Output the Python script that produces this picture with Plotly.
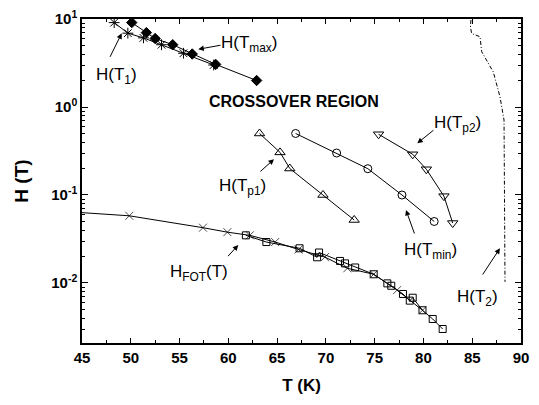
import plotly.graph_objects as go
import math

# ---- data ----
T_max = [50.1, 51.6, 52.5, 54.3, 56.3, 58.7, 62.9]
H_max = [9.1, 7.0, 6.0, 5.1, 4.0, 3.05, 2.0]

T_1 = [48.3, 49.7, 51.3, 53.15, 55.4, 58.5]
H_1 = [9.1, 6.9, 6.1, 5.1, 4.08, 3.0]

T_p1 = [63.2, 65.3, 66.3, 69.7, 72.9]
H_p1 = [0.50, 0.305, 0.20, 0.100, 0.052]

T_min = [66.9, 71.1, 74.3, 77.8, 81.1]
H_min = [0.50, 0.30, 0.199, 0.100, 0.050]

T_p2 = [75.4, 78.9, 80.3, 82.1, 83.0]
H_p2 = [0.49, 0.29, 0.196, 0.097, 0.048]

T_fot_x = [45.0, 49.85, 57.4, 59.9, 62.2, 64.8, 67.2, 69.9, 72.2, 74.9, 77.3, 79.9]
H_fot_x = [0.063, 0.058, 0.0425, 0.0378, 0.0348, 0.0292, 0.0240, 0.0197, 0.0147, 0.01256, 0.0083, 0.0049]

T_fot_sq = [61.8, 63.9, 67.3, 69.1, 69.3, 71.45, 71.96, 73.0, 74.9, 76.3, 76.7, 77.9, 78.6, 78.9, 79.9, 80.95, 81.97]
H_fot_sq = [0.0348, 0.0292, 0.0248, 0.0196, 0.0222, 0.0178, 0.0167, 0.0150, 0.01256, 0.0099, 0.0093, 0.0075, 0.0063, 0.0068, 0.0049, 0.0039, 0.0030]

T_2 = [84.87, 84.82, 84.94, 85.8, 85.97, 87.16, 87.85, 88.26, 88.31, 88.36]
H_2 = [9.75, 8.1, 6.84, 6.29, 4.25, 2.5, 1.3, 0.71, 0.088, 0.0103]

x_ticks = [45, 50, 55, 60, 65, 70, 75, 80, 85, 90]
y_tickvals = [0.01, 0.1, 1, 10]
y_ticktext = ["10<sup>-2</sup>", "10<sup>-1</sup>", "10<sup>0</sup>", "10<sup>1</sup>"]

FONT = "Liberation Sans, Arial, sans-serif"
LW = 1

fig = go.Figure()

def add(T, H, symbol, mode="lines+markers", size=7, dash=None, msizes=None):
    fig.add_trace(go.Scatter(
        x=T, y=H, mode=mode,
        line=dict(color="black", width=LW, dash=dash),
        marker=dict(symbol=symbol, size=msizes if msizes else size, color="black",
                    line=dict(color="black", width=1)),
        showlegend=False, hoverinfo="skip", cliponaxis=False))

add(T_2, H_2, None, mode="lines", dash="4px,2px,1px,2px")
add(T_fot_x, H_fot_x, "x-thin-open", msizes=[0] + [8] * (len(T_fot_x) - 1))
add(T_fot_sq, H_fot_sq, "square-open", size=7)
add(T_1, H_1, "asterisk-open", size=9)
add(T_max, H_max, "diamond", size=8)
add(T_p1, H_p1, "triangle-up-open", size=9)
add(T_min, H_min, "circle-open", size=8)
add(T_p2, H_p2, "triangle-down-open", size=9)

ann_font = dict(family=FONT, size=17, color="black")

def L(v):
    return math.log10(v)

def label(x, y, text, font=ann_font):
    fig.add_annotation(x=x, y=L(y), xref="x", yref="y", text=text, showarrow=False,
                       font=font, xanchor="center", yanchor="middle")

def arrow(x0, y0, x1, y1):
    fig.add_annotation(x=x1, y=L(y1), ax=x0, ay=L(y0),
                       xref="x", yref="y", axref="x", ayref="y", text="",
                       showarrow=True, arrowhead=2, arrowsize=1.1, arrowwidth=1,
                       arrowcolor="black", standoff=0, startstandoff=0)

label(62.12, 5.2, "H(T<sub>max</sub>)")
arrow(59.35, 5.07, 56.92, 4.53)
label(48.49, 2.25, "H(T<sub>1</sub>)")
arrow(47.8, 3.57, 49.07, 6.88)
label(66.73, 1.17, "<b>CROSSOVER REGION</b>", font=dict(family=FONT, size=16, color="black"))
label(61.5, 0.123, "H(T<sub>p1</sub>)")
arrow(63.14, 0.179, 64.68, 0.255)
label(83.44, 0.641, "H(T<sub>p2</sub>)")
arrow(81.18, 0.562, 79.37, 0.387)
label(80.77, 0.0231, "H(T<sub>min</sub>)")
arrow(79.13, 0.0351, 78.21, 0.0676)
label(56.99, 0.0130, "H<sub>FOT</sub>(T)")
arrow(59.83, 0.0194, 61.02, 0.0270)
label(85.59, 0.00676, "H(T<sub>2</sub>)")
arrow(85.97, 0.0120, 87.84, 0.0248)

fig.update_layout(
    width=539, height=405,
    margin=dict(l=82, r=18, t=19, b=62),
    paper_bgcolor="white", plot_bgcolor="white",
    font=dict(family=FONT, color="black"),
    xaxis=dict(range=[45, 90], tickvals=x_ticks, ticks="inside", ticklen=5,
               tickwidth=1, tickcolor="black", showline=True, linecolor="black",
               linewidth=1.5, mirror="ticks", showgrid=False, zeroline=False,
               automargin=False,
               minor=dict(tickvals=[47.5, 52.5, 57.5, 62.5, 67.5, 72.5, 77.5, 82.5, 87.5],
                          ticks="inside", ticklen=3, tickcolor="black"),
               tickfont=dict(family=FONT, size=15, weight="bold"),
               title=dict(text="T (K)", font=dict(family=FONT, size=17, weight="bold"), standoff=14)),
    yaxis=dict(type="log", range=[-2.682, 1.0], tickvals=y_tickvals, ticktext=y_ticktext,
               ticks="inside", ticklen=6, tickwidth=1, tickcolor="black",
               showline=True, linecolor="black", linewidth=1.5, mirror="ticks",
               showgrid=False, zeroline=False, automargin=False,
               minor=dict(tickvals=[0.003, 0.004, 0.005, 0.006, 0.007, 0.008, 0.009,
                                    0.02, 0.03, 0.04, 0.05, 0.06, 0.07, 0.08, 0.09,
                                    0.2, 0.3, 0.4, 0.5, 0.6, 0.7, 0.8, 0.9,
                                    2, 3, 4, 5, 6, 7, 8, 9],
                          ticks="inside", ticklen=3, tickcolor="black"),
               tickfont=dict(family=FONT, size=15, weight="bold"),
               title=dict(text="H (T)", font=dict(family=FONT, size=19, weight="bold"), standoff=18)),
)

fig.write_html("out.html", config={"displayModeBar": False},
               post_script="document.body.style.margin='0px';document.body.style.padding='0px';")
